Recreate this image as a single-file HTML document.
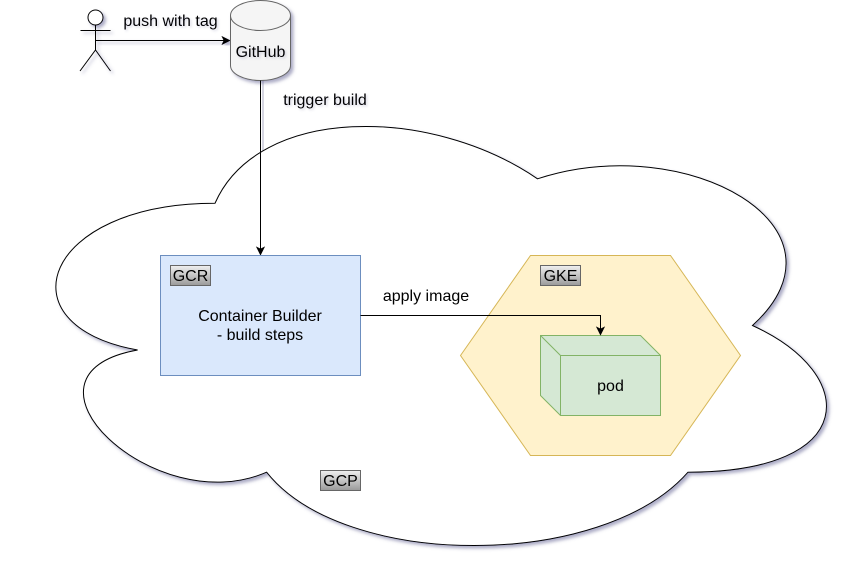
<!DOCTYPE html>
<html>
<head>
<meta charset="utf-8">
<style>
html,body{margin:0;padding:0;background:#fff;}
svg{display:block;}
text{font-family:"Liberation Sans",Arial,sans-serif;font-size:16px;fill:#000;}
.s{filter:url(#sh);}
.t{filter:url(#ts);}
</style>
</head>
<body>
<svg width="867" height="577" viewBox="0 0 867 577" xmlns="http://www.w3.org/2000/svg">
<defs>
<filter id="sh" x="-10%" y="-10%" width="125%" height="125%">
<feDropShadow dx="2.5" dy="2.5" stdDeviation="1.5" flood-color="#5a5a8c" flood-opacity="0.5"/>
</filter>
<filter id="ts" x="-10%" y="-30%" width="125%" height="170%">
<feDropShadow dx="1.5" dy="1.5" stdDeviation="1" flood-color="#5a5a8c" flood-opacity="0.25"/>
</filter>
<linearGradient id="g" x1="0" y1="0" x2="0" y2="1">
<stop offset="0" stop-color="#f0f0f0"/>
<stop offset="1" stop-color="#9a9a9a"/>
</linearGradient>
</defs>

<!-- shadow of trigger line above cloud -->
<path d="M263 80V165" stroke="#5a5a8c" stroke-opacity=".25" stroke-width="2" fill="none"/>

<!-- cloud -->
<path class="s" fill="#fff" stroke="#000" stroke-width="1" d="M215 203.25 C43 203.25 0 325.5 137.6 350 C0 374.5 154.8 521.2 266.6 472.2 C344 570 602 570 688 472.2 C860 472.2 860 374.5 752.5 325.5 C860 227.7 688 130 537.5 178.8 C430 105.4 258 105.4 215 203.25 Z"/>

<!-- actor -->
<g class="s" fill="none" stroke="#000" stroke-width="1">
<ellipse cx="95.5" cy="17.5" rx="7.5" ry="7.5" fill="#fff"/>
<path d="M95.5 25V50M80.5 30.5H110.5M80 71L95.5 50L110.5 71"/>
</g>

<!-- push arrow -->
<g class="s">
<path d="M95.5 40.5H224" fill="none" stroke="#000" stroke-width="1"/>
<path d="M229.5 40.5L222.5 44L224.2 40.5L222.5 37Z" fill="#000" stroke="#000"/>
</g>

<!-- GitHub -->
<g class="s" stroke="#666" stroke-width="1">
<path fill="#f5f5f5" d="M230.5 15.5C230.5 7.2 244 .5 260.5 .5C277 .5 290.5 7.2 290.5 15.5V65.5C290.5 73.8 277 80.5 260.5 80.5C244 80.5 230.5 73.8 230.5 65.5Z"/>
<path fill="none" d="M230.5 15.5C230.5 23.8 244 30.5 260.5 30.5C277 30.5 290.5 23.8 290.5 15.5"/>
</g>

<!-- trigger arrow -->
<path d="M260.5 80.5V249" fill="none" stroke="#000" stroke-width="1"/>
<path d="M260.5 254.5L257 247.5L260.5 249.2L264 247.5Z" fill="#000" stroke="#000"/>

<!-- GCR box -->
<rect x="160.5" y="255.5" width="200" height="120" fill="#dae8fc" stroke="#6c8ebf"/>

<!-- GKE hexagon -->
<path d="M460.5 355.5L530.5 255.5H670.5L740.5 355.5L670.5 455.5H530.5Z" fill="#fff2cc" stroke="#d6b656"/>

<!-- pod cube -->
<path d="M540.5 335.5H640.5L660.5 355.5V415.5H560.5L540.5 395.5Z" fill="#d5e8d4" stroke="#82b366"/>
<path d="M540.5 335.5L560.5 355.5V415.5M560.5 355.5H660.5" fill="none" stroke="#82b366"/>

<!-- apply arrow -->
<path d="M360.5 315.5H600.5V329" fill="none" stroke="#000" stroke-width="1"/>
<path d="M600.5 334.5L597 327.5L600.5 329.2L604 327.5Z" fill="#000" stroke="#000"/>

<!-- tags -->
<rect x="170.5" y="265.5" width="40" height="20" fill="url(#g)" stroke="#666"/>
<rect x="540.5" y="265.5" width="40" height="20" fill="url(#g)" stroke="#666"/>
<rect x="320.5" y="470.5" width="40" height="20" fill="url(#g)" stroke="#666"/>

<!-- labels -->
<text x="190.5" y="281" text-anchor="middle">GCR</text>
<text x="560.5" y="281" text-anchor="middle">GKE</text>
<text x="340.5" y="486" text-anchor="middle">GCP</text>
<text class="t" x="260.5" y="57" text-anchor="middle">GitHub</text>
<text class="t" x="170.5" y="26" text-anchor="middle">push with tag</text>
<text class="t" x="325" y="105" text-anchor="middle">trigger build</text>
<text x="426" y="301" text-anchor="middle">apply image</text>
<text x="260" y="321" text-anchor="middle">Container Builder</text>
<text x="260" y="340" text-anchor="middle">- build steps</text>
<text x="610.5" y="391" text-anchor="middle">pod</text>
</svg>
</body>
</html>
